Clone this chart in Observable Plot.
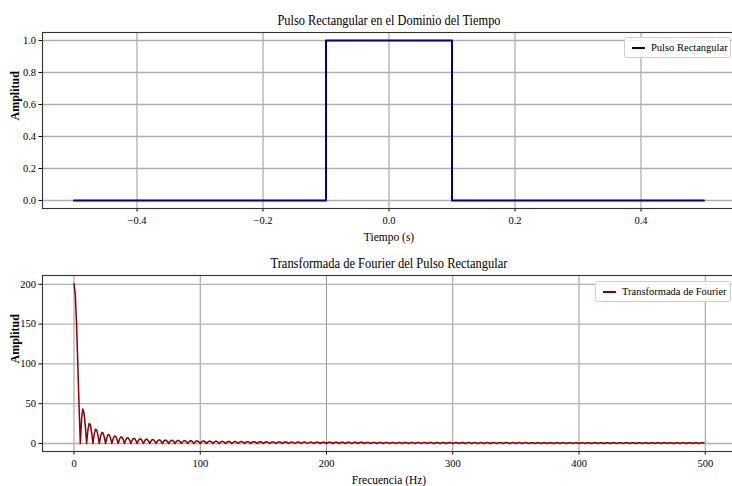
<!DOCTYPE html>
<html>
<head>
<meta charset="utf-8">
<script src="https://cdn.jsdelivr.net/npm/d3@7"></script>
<script src="https://cdn.jsdelivr.net/npm/@observablehq/plot@0.6"></script>
<style>
  html, body { margin: 0; padding: 0; background: #fff; }
  #chart { position: relative; width: 732px; height: 486px; overflow: hidden; background: #fff; font-family: "Liberation Serif", serif; }
  #chart svg { display: block; }
  .legend { position: absolute; background: rgba(255,255,255,0.85); border: 1px solid #d0d0d0; border-radius: 3px; font-size: 10.5px; color: #000; white-space: nowrap; box-sizing: border-box; }
  .legend .swatch { position: absolute; height: 0; border-top-width: 2px; border-top-style: solid; }
  .legend .lbl { position: absolute; line-height: 1; }
</style>
</head>
<body>
<div id="chart"></div>
<script>
// ---------- data ----------
const titleTime = "Pulso Rectangular en el Dominio del Tiempo";
const titleFreq = "Transformada de Fourier del Pulso Rectangular";
const seriesTime = "Pulso Rectangular";
const seriesFreq = "Transformada de Fourier";
const labelTime = "Tiempo (s)";
const labelFreq = "Frecuencia (Hz)";
const labelAmp = "Amplitud";

// time-domain pulse (s, amplitude)
const pulseTime = [-0.5, -0.1, -0.1, 0.1, 0.1, 0.5];
const pulseAmp  = [0, 0, 1, 1, 0, 0];

const timeTicks = [-0.4, -0.2, 0.0, 0.2, 0.4];
const pulseAmpTicks = [0.0, 0.2, 0.4, 0.6, 0.8, 1.0];

// FFT magnitude, one value per 1 Hz bin starting at 0 Hz
const fftAmplitude = [
  201, 187.1, 151.4, 100.9, 46.8,
  0, 31.2, 43.2, 37.8, 20.8,
  0, 17.0, 25.2, 23.3, 13.4,
  0, 11.7, 17.8, 16.8, 9.8,
  0, 8.9, 13.8, 13.2, 7.8,
  0, 7.2, 11.2, 10.8, 6.5,
  0, 6.0, 9.5, 9.2, 5.5,
  0, 5.2, 8.2, 8.0, 4.8,
  0, 4.6, 7.2, 7.0, 4.3,
  0, 4.1, 6.4, 6.3, 3.8,
  0, 3.7, 5.8, 5.7, 3.5,
  0, 3.3, 5.3, 5.2, 3.2,
  0, 3.1, 4.9, 4.8, 2.9,
  0, 2.8, 4.5, 4.5, 2.7,
  0, 2.7, 4.2, 4.2, 2.5,
  0, 2.5, 4.0, 3.9, 2.4,
  0, 2.3, 3.7, 3.7, 2.3,
  0, 2.2, 3.5, 3.5, 2.1,
  0, 2.1, 3.3, 3.3, 2.0,
  0, 2.0, 3.2, 3.1, 1.9,
  0, 1.9, 3.0, 3.0, 1.8,
  0, 1.8, 2.9, 2.9, 1.8,
  0, 1.7, 2.7, 2.7, 1.7,
  0, 1.6, 2.6, 2.6, 1.6,
  0, 1.6, 2.5, 2.5, 1.6,
  0, 1.5, 2.4, 2.4, 1.5,
  0, 1.5, 2.4, 2.4, 1.5,
  0, 1.4, 2.3, 2.3, 1.4,
  0, 1.4, 2.2, 2.2, 1.4,
  0, 1.3, 2.1, 2.1, 1.3,
  0, 1.3, 2.1, 2.1, 1.3,
  0, 1.2, 2.0, 2.0, 1.2,
  0, 1.2, 1.9, 1.9, 1.2,
  0, 1.2, 1.9, 1.9, 1.2,
  0, 1.1, 1.8, 1.8, 1.1,
  0, 1.1, 1.8, 1.8, 1.1,
  0, 1.1, 1.8, 1.8, 1.1,
  0, 1.1, 1.7, 1.7, 1.1,
  0, 1.0, 1.7, 1.7, 1.0,
  0, 1.0, 1.6, 1.6, 1.0,
  0, 1.0, 1.6, 1.6, 1.0,
  0, 1.0, 1.6, 1.6, 1.0,
  0, 0.9, 1.5, 1.5, 0.9,
  0, 0.9, 1.5, 1.5, 0.9,
  0, 0.9, 1.5, 1.5, 0.9,
  0, 0.9, 1.5, 1.5, 0.9,
  0, 0.9, 1.4, 1.4, 0.9,
  0, 0.9, 1.4, 1.4, 0.9,
  0, 0.9, 1.4, 1.4, 0.9,
  0, 0.8, 1.4, 1.4, 0.8,
  0, 0.8, 1.3, 1.3, 0.8,
  0, 0.8, 1.3, 1.3, 0.8,
  0, 0.8, 1.3, 1.3, 0.8,
  0, 0.8, 1.3, 1.3, 0.8,
  0, 0.8, 1.3, 1.3, 0.8,
  0, 0.8, 1.2, 1.2, 0.8,
  0, 0.8, 1.2, 1.2, 0.8,
  0, 0.7, 1.2, 1.2, 0.7,
  0, 0.7, 1.2, 1.2, 0.7,
  0, 0.7, 1.2, 1.2, 0.7,
  0, 0.7, 1.2, 1.2, 0.7,
  0, 0.7, 1.2, 1.2, 0.7,
  0, 0.7, 1.1, 1.1, 0.7,
  0, 0.7, 1.1, 1.1, 0.7,
  0, 0.7, 1.1, 1.1, 0.7,
  0, 0.7, 1.1, 1.1, 0.7,
  0, 0.7, 1.1, 1.1, 0.7,
  0, 0.7, 1.1, 1.1, 0.7,
  0, 0.7, 1.1, 1.1, 0.7,
  0, 0.7, 1.1, 1.1, 0.7,
  0, 0.7, 1.1, 1.1, 0.7,
  0, 0.7, 1.1, 1.1, 0.7,
  0, 0.6, 1.0, 1.0, 0.6,
  0, 0.6, 1.0, 1.0, 0.6,
  0, 0.6, 1.0, 1.0, 0.6,
  0, 0.6, 1.0, 1.0, 0.6,
  0, 0.6, 1.0, 1.0, 0.6,
  0, 0.6, 1.0, 1.0, 0.6,
  0, 0.6, 1.0, 1.0, 0.6,
  0, 0.6, 1.0, 1.0, 0.6,
  0, 0.6, 1.0, 1.0, 0.6,
  0, 0.6, 1.0, 1.0, 0.6,
  0, 0.6, 1.0, 1.0, 0.6,
  0, 0.6, 1.0, 1.0, 0.6,
  0, 0.6, 1.0, 1.0, 0.6,
  0, 0.6, 1.0, 1.0, 0.6,
  0, 0.6, 1.0, 1.0, 0.6,
  0, 0.6, 1.0, 1.0, 0.6,
  0, 0.6, 1.0, 1.0, 0.6,
  0, 0.6, 1.0, 1.0, 0.6,
  0, 0.6, 1.0, 1.0, 0.6,
  0, 0.6, 1.0, 1.0, 0.6,
  0, 0.6, 1.0, 1.0, 0.6,
  0, 0.6, 1.0, 1.0, 0.6,
  0, 0.6, 1.0, 1.0, 0.6,
  0, 0.6, 1.0, 1.0, 0.6,
  0, 0.6, 1.0, 1.0, 0.6,
  0, 0.6, 1.0, 1.0, 0.6,
  0, 0.6, 1.0, 1.0, 0.6,
  0, 0.6, 1.0, 1.0, 0.6
];
const freqStepHz = 1;
const freqTicks = [0, 100, 200, 300, 400, 500];
const fftAmpTicks = [0, 50, 100, 150, 200];

// ---------- styles ----------
const W = 732, H = 243;
const colorTime = "#00008b";
const colorFreq = "#8b0000";
const fontFamily = "'Liberation Serif', serif";

const pulseData = pulseTime.map((t, i) => ({t, a: pulseAmp[i]}));
const fftData = fftAmplitude.map((a, i) => ({f: i * freqStepHz, a}));

function panel({data, x, y, xDomain, yDomain, xTicks, yTicks, xFmt, yFmt, stroke, strokeWidth, title, titleWidth, xLabel}) {
  const svg = Plot.plot({
    width: W, height: H,
    marginTop: 32, marginBottom: 35, marginLeft: 42, marginRight: -3,
    style: {fontFamily, fontSize: "10px", background: "transparent", color: "#000", overflow: "visible"},
    x: {domain: xDomain, label: null},
    y: {domain: yDomain, label: null},
    marks: [
      Plot.gridX(xTicks, {stroke: "#808080", strokeOpacity: 1, strokeWidth: 0.8}),
      Plot.gridY(yTicks, {stroke: "#b0b0b0", strokeOpacity: 1, strokeWidth: 1.3}),
      Plot.axisX(xTicks, {tickSize: 3.5, tickPadding: 5, tickFormat: xFmt, label: null, fontSize: 10.5}),
      Plot.axisY(yTicks, {tickSize: 3.5, tickPadding: 3, tickFormat: yFmt, label: null, fontSize: 10.5}),
      Plot.line(data, {x, y, stroke, strokeWidth, strokeLinejoin: "round"}),
      Plot.frame({stroke: "#333", strokeWidth: 1.1}),
      Plot.text([title], {frameAnchor: "top", lineAnchor: "middle", dy: -12.5, fontSize: 14.5, text: d => d}),
      Plot.text([xLabel], {frameAnchor: "bottom", lineAnchor: "middle", dy: 29, fontSize: 11.5, text: d => d}),
      Plot.text([labelAmp], {frameAnchor: "left", lineAnchor: "middle", dx: -27, rotate: -90, fontSize: 12, fontWeight: "bold", text: d => d})
    ]
  });
  // condense title glyphs to the reference's narrower face
  svg.querySelectorAll("text").forEach(t => {
    if (t.textContent === title) {
      t.setAttribute("textLength", titleWidth);
      t.setAttribute("lengthAdjust", "spacingAndGlyphs");
    }
  });
  return svg;
}

const root = document.getElementById("chart");

const timePanel = panel({
  data: pulseData, x: "t", y: "a",
  xDomain: [-0.55, 0.55], yDomain: [-0.05, 1.05],
  xTicks: timeTicks, yTicks: pulseAmpTicks, xFmt: d3.format(".1f"), yFmt: d3.format(".1f"),
  stroke: colorTime, strokeWidth: 2,
  title: titleTime, titleWidth: 223, xLabel: labelTime
});
const freqPanel = panel({
  data: fftData, x: "f", y: "a",
  xDomain: [-24.95, 523.95], yDomain: [-10.05, 211.05],
  xTicks: freqTicks, yTicks: fftAmpTicks, xFmt: d3.format("d"), yFmt: d3.format("d"),
  stroke: colorFreq, strokeWidth: 1.5,
  title: titleFreq, titleWidth: 237, xLabel: labelFreq
});
root.appendChild(timePanel);
root.appendChild(freqPanel);

function legend({left, topPx, width, color, label}) {
  const box = document.createElement("div");
  box.className = "legend";
  Object.assign(box.style, {left: left + "px", top: topPx + "px", width: width + "px", height: "21px"});
  const sw = document.createElement("div");
  sw.className = "swatch";
  Object.assign(sw.style, {left: "7px", top: "9px", width: "13px", borderTopColor: color});
  const tx = document.createElement("div");
  tx.className = "lbl";
  tx.textContent = label;
  Object.assign(tx.style, {left: "26px", top: "5px"});
  box.append(sw, tx);
  root.appendChild(box);
}
legend({left: 624, topPx: 37, width: 107, color: colorTime, label: seriesTime});
legend({left: 595, topPx: 281, width: 136, color: colorFreq, label: seriesFreq});
</script>
</body>
</html>
